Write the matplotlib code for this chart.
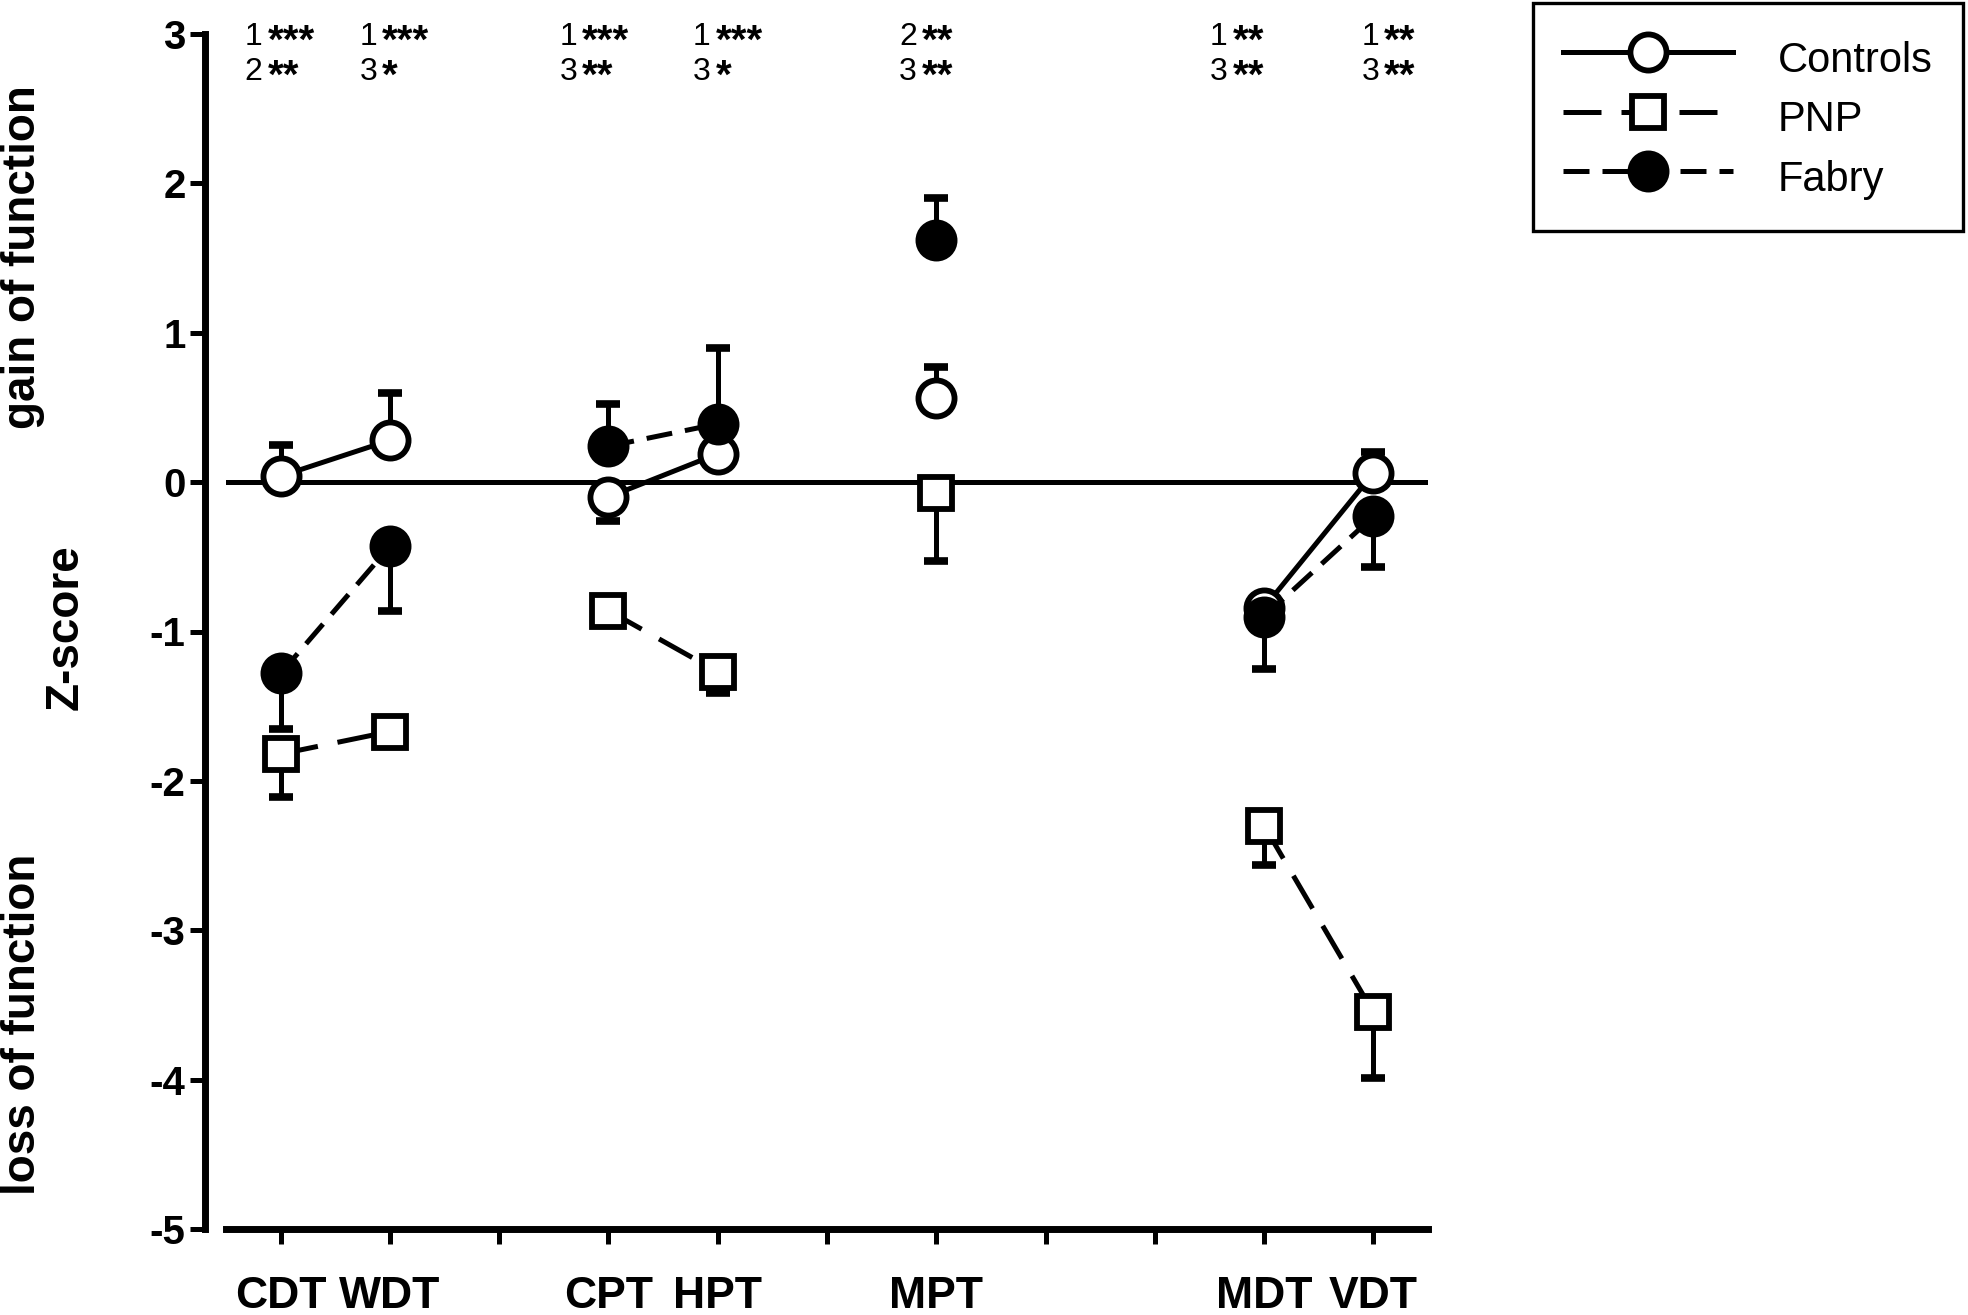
import matplotlib
matplotlib.use("Agg")
import matplotlib.pyplot as plt
from matplotlib.lines import Line2D

plt.rcParams['font.family'] = ['Liberation Sans', 'DejaVu Sans']
plt.rcParams['axes.unicode_minus'] = False

# QST parameters and their x slots (gaps between groups are empty ticks)
tests = ['CDT', 'WDT', 'CPT', 'HPT', 'MPT', 'MDT', 'VDT']
test_pos = [1, 2, 4, 5, 7, 10, 11]
tick_pos = list(range(1, 12))
tick_labels = ['CDT', 'WDT', '', 'CPT', 'HPT', '', 'MPT', '', '', 'MDT', 'VDT']

# mean z-scores; error is one-sided (+ = drawn upward, - = drawn downward)
controls_mean = [0.04, 0.28, -0.10, 0.19, 0.56, -0.84, 0.06]
controls_err = [0.21, 0.32, -0.16, 0.12, 0.21, -0.10, 0.14]
pnp_mean = [-1.82, -1.67, -0.86, -1.27, -0.07, -2.30, -3.55]
pnp_err = [-0.29, -0.05, -0.05, -0.14, -0.46, -0.26, -0.44]
fabry_mean = [-1.28, -0.43, 0.24, 0.39, 1.62, -0.90, -0.23]
fabry_err = [-0.37, -0.43, 0.28, 0.51, 0.28, -0.35, -0.34]

# which tests are joined by a line
segments = [(0, 1), (2, 3), (4,), (5, 6)]

# significance marks above each test (two rows)
sig_row1 = ['1 ***', '1 ***', '1 ***', '1 ***', '2 **', '1 **', '1 **']
sig_row2 = ['2 **', '3 *', '3 **', '3 *', '3 **', '3 **', '3 **']
sig_shift = [-0.33, -0.28, -0.45, -0.23, -0.34, -0.50, -0.11]

W, H = 1968, 1315
fig = plt.figure(figsize=(W / 100, H / 100), dpi=100)
ax = fig.add_axes([226 / W, 1 - 1229 / H, (1428 - 226) / W, (1229 - 34) / H])

# spine position first: moving it resets the tick objects
for s in ('top', 'right'):
    ax.spines[s].set_visible(False)
for s in ('left', 'bottom'):
    ax.spines[s].set_linewidth(5)
ax.spines['left'].set_position(('outward', 15))

LW = 3.6
MEW = 4.2
series = [
    ('Controls', controls_mean, controls_err,
     dict(marker='o', ms=26, mfc='white', linestyle='-'), 4),
    ('PNP', pnp_mean, pnp_err,
     dict(marker='s', ms=23, mfc='white', dashes=(7.6, 4.0)), 3),
    ('Fabry', fabry_mean, fabry_err,
     dict(marker='o', ms=26, mfc='black', dashes=(5.2, 2.6)), 5),
]

ax.axhline(0, color='black', lw=LW, zorder=1)

handles = []
for name, mean, err, style, z in series:
    lower = [-e if e < 0 else 0 for e in err]
    upper = [e if e > 0 else 0 for e in err]
    ax.errorbar(test_pos, mean, yerr=[lower, upper], fmt='none', ecolor='black',
                elinewidth=LW, capsize=8.6, capthick=5.5, zorder=z - 0.5)
    for seg in segments:
        xs = [test_pos[i] for i in seg]
        ys = [mean[i] for i in seg]
        ax.plot(xs, ys, color='black', lw=LW, mec='black', mew=MEW,
                zorder=z, **style)
    handles.append(Line2D([], [], color='black', lw=LW, mec='black', mew=MEW, **style))

# significance annotations
for row, y in ((sig_row1, 2.925), (sig_row2, 2.69)):
    for i, s in enumerate(row):
        num, stars = s.split()
        x0 = test_pos[i] + sig_shift[i]
        ax.text(x0, y, num, fontsize=23, ha='left', va='baseline', clip_on=False)
        ax.text(x0 + 0.21, y - 0.05, stars, fontsize=29, fontweight='bold',
                ha='left', va='baseline', clip_on=False)

ax.set_xlim(0.5, 11.5)
ax.set_ylim(-5, 3)
ax.set_xticks(tick_pos)
ax.set_xticklabels(tick_labels, fontsize=32, fontweight='bold')
ax.set_yticks(range(-5, 4))
ax.set_yticklabels([str(v) for v in range(-5, 4)], fontsize=29, fontweight='bold')
ax.tick_params(axis='both', direction='out', length=11, width=3.6)
ax.tick_params(axis='x', pad=23)
ax.tick_params(axis='y', pad=3)

fig.text(23 / W, 1 - 257 / H, 'gain of function', rotation=90, fontsize=33,
         fontweight='bold', ha='center', va='center')
fig.text(23 / W, 1 - 1024 / H, 'loss of function', rotation=90, fontsize=33,
         fontweight='bold', ha='center', va='center')
fig.text(66 / W, 1 - 627 / H, 'Z-score', rotation=90, fontsize=33,
         fontweight='bold', ha='center', va='center')

leg = fig.legend(handles, [s[0] for s in series], loc='upper left',
                 bbox_to_anchor=(1533 / W, 1 - 3 / H), borderaxespad=0,
                 fontsize=30, handlelength=4.08, handletextpad=1.08,
                 handleheight=1.45, borderpad=0.72, labelspacing=0.24,
                 numpoints=1, frameon=True, fancybox=False,
                 edgecolor='black', framealpha=1)
leg.get_frame().set_linewidth(2.4)

fig.savefig('out.png', dpi=100)
